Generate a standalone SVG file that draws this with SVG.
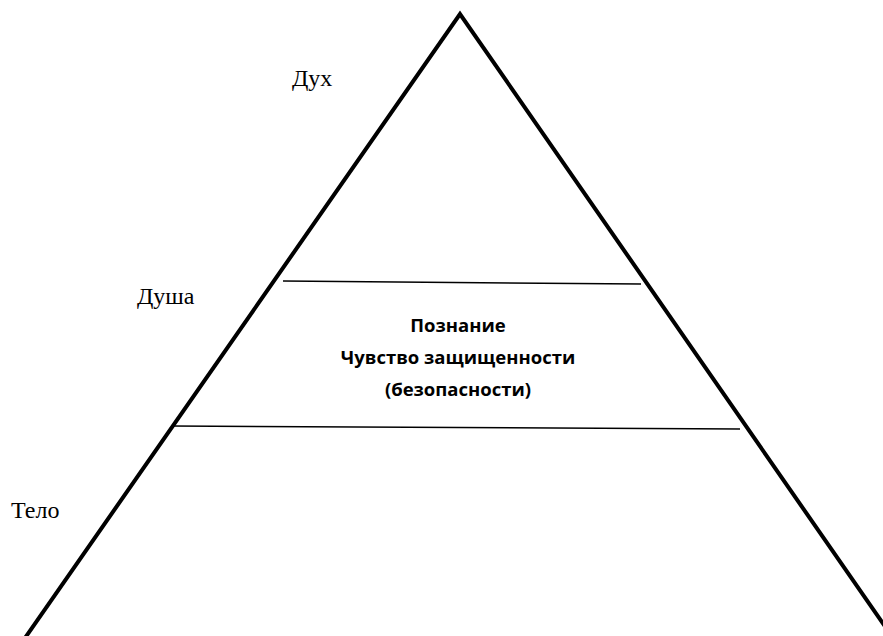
<svg xmlns="http://www.w3.org/2000/svg" width="883" height="636" viewBox="0 0 883 636">
<style>
.serif{font-family:"Liberation Serif","Times New Roman",serif;font-size:24px;fill:#000}
.bold{font-family:"Open Sans","Noto Sans",sans-serif;font-weight:bold;font-size:18.5px;fill:#000;text-anchor:middle}
.edge{stroke:#000;stroke-width:4;fill:none}
.thin{stroke:#000;stroke-width:1.5;fill:none}
</style>
<rect width="883" height="636" fill="#fff"/>
<g id="connectors">
<path class="edge" d="M25,638 L460,14 L893,638"/>
<line class="thin" x1="283" y1="281" x2="641" y2="284"/>
<line class="thin" x1="171" y1="426" x2="740" y2="429"/>
</g>
<g id="node-spirit"><text class="serif" x="292" y="86">Дух</text></g>
<g id="node-soul"><text class="serif" x="137" y="304">Душа</text></g>
<g id="node-body"><text class="serif" x="11" y="518">Тело</text></g>
<g id="node-middle">
<text class="bold" x="458" y="332">Познание</text>
<text class="bold" x="458" y="364">Чувство защищенности</text>
<text class="bold" x="458" y="396">(безопасности)</text>
</g>
</svg>
